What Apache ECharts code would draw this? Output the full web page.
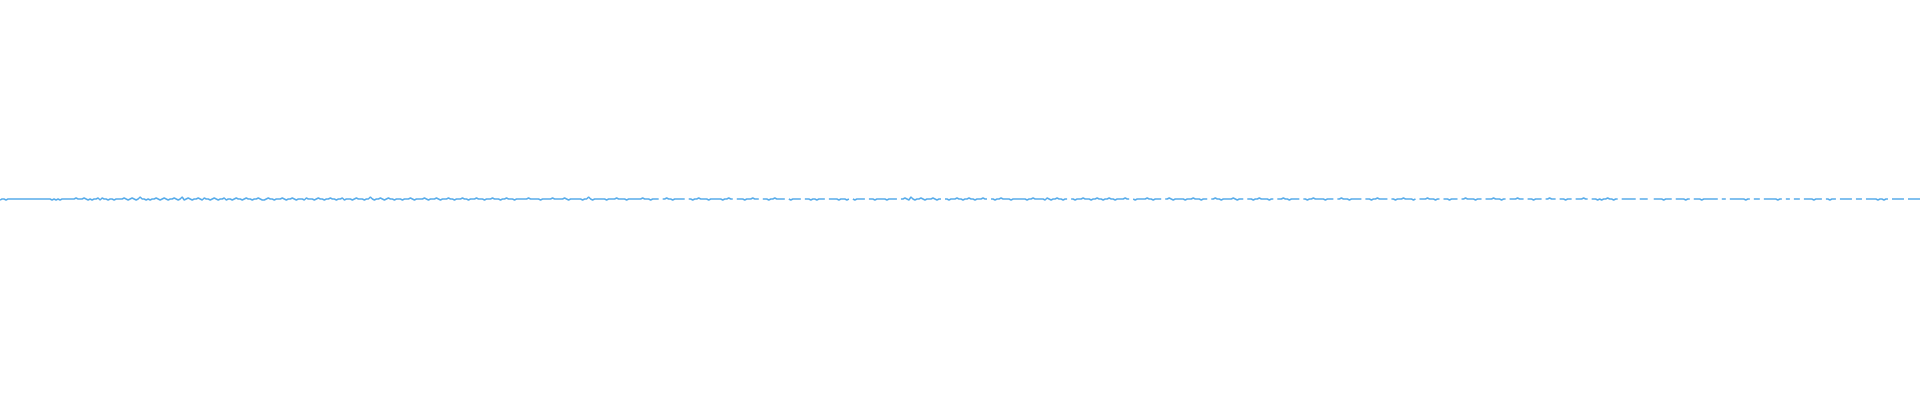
<!DOCTYPE html>
<html>
<head>
<meta charset="utf-8">
<script src="https://cdn.jsdelivr.net/npm/echarts@6/dist/echarts.min.js"></script>
<style>html,body{margin:0;padding:0;background:#fff}#c{width:1920px;height:400px}</style>
</head>
<body>
<div id="c"></div>
<script>
const values = [
-1,0,0,-1,0,0,0,0,0,0, 0,0,0,0,0,0,0,0,0,0, 0,0,0,0,0,0,-1,0,-1,0, -1,0,0,0,0,0,0,0,1,0,
0,0,1,0,-1,0,-1,0,0,1, -1,1,0,0,-1,0,0,-1,0,0, 0,0,1,0,-1,0,1,0,-1,0, 2,0,0,-1,0,-1,0,0,1,0,
-1,0,1,0,-1,0,0,1,0,-1, 0,2,-1,0,1,0,-1,0,0,1, 0,-1,1,0,0,-1,0,1,0,-1, 0,0,1,-1,0,0,-1,0,1,0,
0,-1,0,1,0,0,-1,0,0,1, 0,-1,-1,0,1,0,0,-1,0,0, 0,1,0,-1,0,0,1,0,-1,0, 0,0,-1,1,0,0,0,-1,0,1,
0,0,-1,0,0,1,0,0,-1,0, 0,1,-1,0,0,0,-1,0,1,0, 0,0,-1,0,0,2,0,-1,0,0, 1,0,-1,0,1,0,0,-1,0,0,
0,-1,0,0,0,1,0,-1,0,0, 0,0,1,0,-1,0,0,0,1,0, -1,0,0,0,1,0,0,-1,0,0, 0,1,0,0,-1,0,0,0,1,0,
0,0,-1,0,0,0,1,0,0,0, -1,0,0,1,0,0,0,-1,0,0, 0,0,0,0,1,0,0,0,0,0, -1,0,0,0,0,0,1,0,0,0,
0,0,1,0,-1,0,0,0,0,0, 0,-1,0,0,2,0,-1,0,0,0, 0,0,0,-1,0,0,0,0,1,0, 0,0,0,-1,0,0,0,0,0,0,
0,1,0,0,0,-1,0,0,0,0, null,0,0,1,0,0,-1,0,0,0, 0,0,0,null,0,0,-1,0,0,1, 0,0,0,0,-1,0,0,0,0,0,
0,-1,0,0,1,0,0,null,0,0, 0,0,-1,0,0,0,1,0,0,0, null,0,0,0,-1,0,0,1,0,0, 0,0,0,null,0,-1,0,0,0,0,
0,null,0,0,0,-1,0,0,-1,0, 0,0,0,null,0,0,0,0,0,-1, 0,0,0,-1,0,null,0,-1,0,0, 0,0,0,null,0,0,0,-1,0,0,
0,0,0,-1,0,0,0,0,0,null, 0,0,1,0,-1,2,0,-1,0,0, 1,0,-1,0,0,0,1,0,-1,0, 0,null,0,0,-1,0,0,0,1,0,
0,-1,0,0,1,0,0,-1,0,0, 0,1,0,0,null,0,0,-1,0,0, 1,0,0,0,0,-1,0,0,0,0, 0,0,0,-1,0,0,1,0,0,0,
0,0,-1,1,0,-1,0,0,1,0, 0,-1,0,0,null,0,0,-1,0,0, 0,1,0,0,0,-1,0,0,1,0, 0,-1,0,0,1,0,0,-1,0,0,
0,0,1,0,0,null,0,-1,0,0, 0,0,0,1,0,0,-1,0,0,0, 0,null,0,0,1,0,-1,0,0,0, 0,0,-1,0,0,0,1,0,0,0,
-1,0,0,0,null,0,0,1,0,0, -1,0,0,0,0,0,1,0,-1,0, 0,0,null,0,0,0,-1,0,0,1, 0,0,0,0,-1,0,0,null,0,0,
0,1,0,0,-1,0,0,0,0,0, null,0,0,-1,0,0,1,0,0,0, 0,0,-1,0,0,0,0,null,0,0, 1,0,0,0,-1,0,0,0,0,0,
0,null,0,0,0,-1,0,0,1,0, 0,0,0,0,null,0,0,-1,0,0, 0,1,0,0,0,0,-1,0,null,0, 0,0,0,1,0,0,0,-1,0,0,
null,0,0,0,-1,0,0,0,0,null, 0,0,1,0,0,0,0,-1,0,0, 0,null,0,0,0,0,1,0,0,0, -1,0,0,null,0,0,0,0,1,0,
0,0,null,0,0,0,-1,0,0,0, 0,null,0,0,1,0,0,0,null,0, 0,0,-1,0,0,0,null,0,0,0, 0,1,0,0,null,0,0,0,-1,0,
-1,0,0,1,0,0,-1,0,0,null, 0,0,0,0,0,0,0,0,null,0, 0,0,0,0,null,null,0,0,0,0, 0,-1,0,0,0,0,null,0,0,0,
0,0,-1,0,0,null,0,0,0,0, -1,0,0,0,0,0,0,0,0,null, 0,0,0,null,0,0,0,0,0,0, 0,0,-1,0,0,null,0,0,0,0,
null,0,0,0,0,0,0,0,-1,0, 0,null,0,0,0,null,0,0,0,0, null,0,0,0,0,0,-1,0,0,0, 0,null,0,0,-1,0,0,0,null,0,
0,0,0,0,0,0,null,0,0,0, 0,null,0,0,0,0,0,0,-1,0, 0,-1,0,0,null,0,0,0,0,0, 0,0,null,0,0,0,0,0,0,0
];
const categories = values.map((v, i) => String(i));
const yMin = -201;
const yMax = 199;
const chart = echarts.init(document.getElementById('c'));
chart.setOption({
  animation: false,
  grid: {left: 0, right: 0, top: 0, bottom: 0},
  xAxis: {type: 'category', data: categories, boundaryGap: false, show: false},
  yAxis: {type: 'value', min: yMin, max: yMax, show: false},
  series: [{
    type: 'line',
    data: values,
    showSymbol: false,
    connectNulls: false,
    lineStyle: {color: '#58acea', width: 1.5},
    itemStyle: {color: '#58acea'}
  }]
});
</script>
</body>
</html>
